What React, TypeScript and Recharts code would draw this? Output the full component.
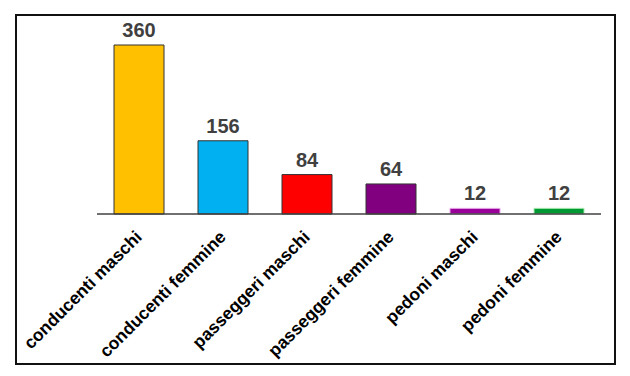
import { Bar, BarChart, Cell, LabelList, XAxis, YAxis } from 'recharts';

const categories = [
  'conducenti maschi',
  'conducenti femmine',
  'passeggeri maschi',
  'passeggeri femmine',
  'pedoni maschi',
  'pedoni femmine',
];
const values = [360, 156, 84, 64, 12, 12];
const colors = ['#FFC000', '#00B0F0', '#FF0000', '#800080', '#990099', '#009933'];
const strokes = ['#333333', '#333333', '#333333', '#333333', '#E8A8E8', '#A8E8B0'];

const data = categories.map((name, i) => ({ name, value: values[i] }));

function Tick({ x, y, payload }: { x: number; y: number; payload: { value: string } }) {
  const tx = x + 4;
  const ty = y + 16;
  return (
    <text
      x={tx}
      y={ty}
      transform={`rotate(-45, ${tx}, ${ty})`}
      textAnchor="end"
      fill="#000"
      fontSize={17.5}
      fontWeight={700}
      fontFamily="'Liberation Sans', Arial, sans-serif"
    >
      {payload.value}
    </text>
  );
}

export default function App() {
  return (
    <div style={{ position: 'absolute', left: 0, top: 0, width: 630, height: 376, background: '#fff' }}>
      <div
        style={{
          position: 'absolute',
          left: 15,
          top: 14,
          width: 601,
          height: 351,
          border: '2px solid #111',
          boxSizing: 'border-box',
        }}
      />
      <div style={{ position: 'absolute', left: 0, top: 0 }}>
        <BarChart
          width={630}
          height={376}
          data={data}
          barCategoryGap={17}
          margin={{ top: 45, right: 29, bottom: 42, left: 97 }}
        >
          <YAxis hide domain={[0, 360]} />
          <XAxis
            dataKey="name"
            height={120}
            interval={0}
            tickLine={false}
            axisLine={{ stroke: '#404040', strokeWidth: 1.5 }}
            tick={Tick}
          />
          <Bar dataKey="value" isAnimationActive={false} strokeWidth={1}>
            {data.map((d, i) => (
              <Cell key={d.name} fill={colors[i]} stroke={strokes[i]} />
            ))}
            <LabelList
              dataKey="value"
              position="top"
              offset={8}
              fill="#404040"
              fontSize={20}
              fontWeight={700}
              fontFamily="'Liberation Sans', Arial, sans-serif"
            />
          </Bar>
        </BarChart>
      </div>
    </div>
  );
}
